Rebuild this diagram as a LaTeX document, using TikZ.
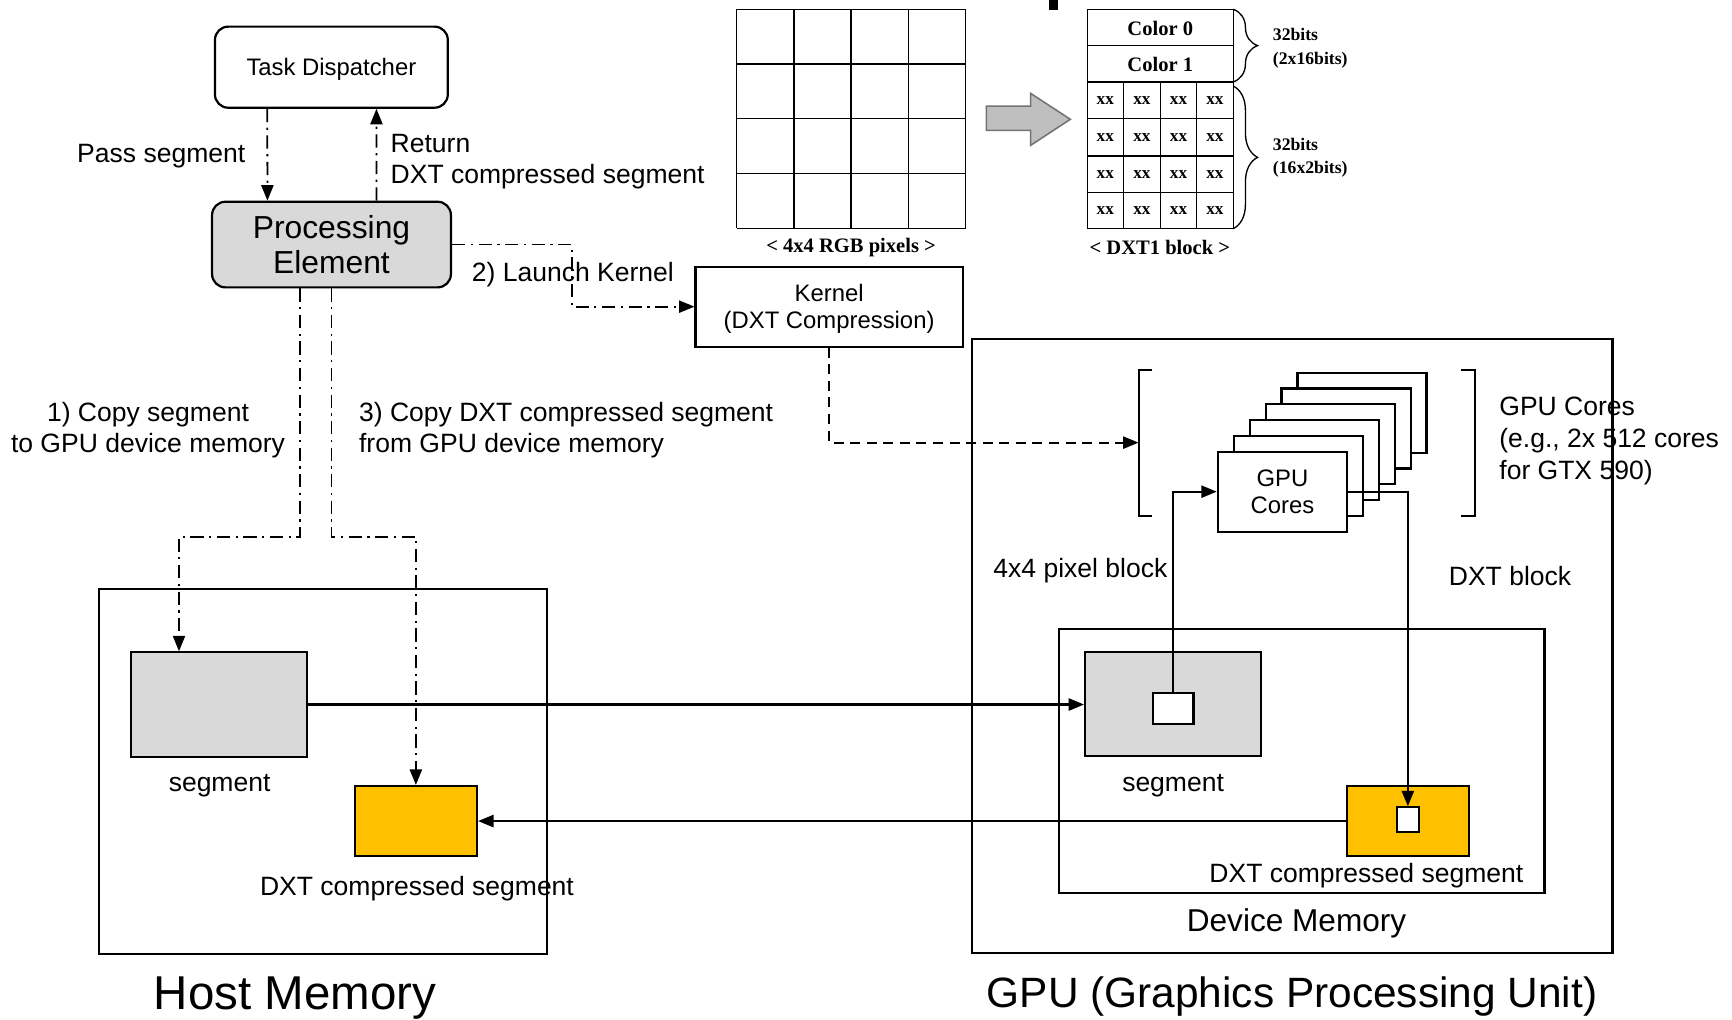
\documentclass[tikz,border=0pt]{standalone}
\usepackage{fontspec}
\setmainfont{Liberation Sans}
\newfontfamily\tnr{Liberation Serif}
\usetikzlibrary{arrows.meta,decorations.pathreplacing}
\definecolor{segfill}{HTML}{D9D9D9}
\definecolor{dxtfill}{HTML}{FFC000}
\definecolor{bigarrow}{HTML}{BFBFBF}

\begin{document}
\begin{tikzpicture}[x=0.5pt,y=-0.5pt,
  membox/.style={draw,line width=1pt,inner sep=0pt,align=center,text depth=0pt,font=\fontsize{10.8}{12.1}\selectfont},
  lbl/.style={inner sep=0pt,text depth=0pt,font=\fontsize{12}{14.3}\selectfont},
  dashdot/.style={line width=0.8pt,dash pattern=on 6pt off 2.5pt on 1pt off 2.5pt},
  arr/.style={-{Triangle[length=7pt,width=5.5pt]}},
  inset/.style={inner sep=0pt,font=\tnr\bfseries\fontsize{9.3}{10.5}\selectfont}]
  \useasboundingbox (0,0) rectangle (1568,923);

  % 4x4 pixels and DXT1 block
  \foreach \i in {0,...,4} {
    \draw[line width=0.6pt] ({667+51.775*\i},8.4) -- ({667+51.775*\i},206.7);
    \draw[line width=0.6pt] (667,{8.4+49.575*\i}) -- (874.1,{8.4+49.575*\i});
  }
  \node[inset] (rgbcap) at (770.5,224) {< 4x4 RGB pixels >};
  \filldraw[fill=bigarrow,draw=black!55,line width=0.7pt] (893,96) -- (933,96) -- (933,84.5)
    -- (969,108) -- (933,131.6) -- (933,118) -- (893,118) -- cycle;
  \draw[line width=0.6pt] (984.3,8.4) rectangle (1116.5,207);
  \foreach \yy in {41.4,74.2,107.5,141.2,174.5}
    \draw[line width=0.6pt] (984.3,\yy) -- (1116.5,\yy);
  \foreach \xx in {1016.9,1050.7,1083.3}
    \draw[line width=0.6pt] (\xx,74.2) -- (\xx,207);
  \node[inset] (col0) at (1050.4,25.6) {Color 0};
  \node[inset] (col1) at (1050.4,58.8) {Color 1};
  \foreach \xx in {1000.6,1033.8,1067,1099.9}
    \foreach \yy in {90.9,124.4,157.9,190.8}
      \node[inset,font=\tnr\bfseries\fontsize{7.8}{9}\selectfont] at (\xx,\yy) {xx};
  \draw[line width=0.6pt,decorate,decoration={brace,amplitude=11pt}] (1116.5,8.4) -- (1116.5,74.2);
  \draw[line width=0.6pt,decorate,decoration={brace,amplitude=11pt}] (1116.5,77.9) -- (1116.5,207);
  \node[inset,anchor=west,align=left,font=\tnr\bfseries\fontsize{8}{10.5}\selectfont] (bits1) at (1152,43.7) {32bits\\(2x16bits)};
  \node[inset,anchor=west,align=left,font=\tnr\bfseries\fontsize{8}{10.5}\selectfont] (bits2) at (1152,143) {32bits\\(16x2bits)};
  \node[inset] (dxtcap) at (1050,224) {< DXT1 block >};
  \fill (949.7,0) rectangle (957.5,9);

  % host side
  \node[membox,rounded corners=6pt,minimum width=105.4pt,minimum height=36.7pt] (td) at (300,60.8) {Task Dispatcher};
  \node[membox,rounded corners=6pt,fill=segfill,minimum width=108.1pt,minimum height=38.75pt,
        font=\fontsize{14.4}{16.2}\selectfont] (pe) at (300.1,221.4) {Processing\\Element};
  \node[membox,minimum width=120.9pt,minimum height=36.2pt] (kernel) at (750.6,277.6) {Kernel\\(DXT Compression)};
  \node[membox,minimum width=202.95pt,minimum height=164.9pt] (host) at (292.35,698.4) {};
  \node[membox,fill=segfill,minimum width=79.75pt,minimum height=47.2pt] (hostseg) at (198.25,637.8) {};
  \node[membox,fill=dxtfill,minimum width=55.3pt,minimum height=31.7pt] (hostdxt) at (376.5,743.3) {};

  % GPU side
  \node[membox,minimum width=289.75pt,minimum height=278.2pt] (gpu) at (1170,584.8) {};
  \node[membox,minimum width=219.7pt,minimum height=119.4pt] (devmem) at (1178.6,688.8) {};
  \node[membox,fill=segfill,minimum width=79.7pt,minimum height=47.05pt] (devseg) at (1062.1,637.35) {};
  \node[membox,fill=white,minimum width=18.3pt,minimum height=14.15pt] (devblk) at (1062.1,641.25) {};
  \node[membox,fill=dxtfill,minimum width=55.3pt,minimum height=31.7pt] (devdxt) at (1274.8,743.3) {};
  \node[membox,fill=white,minimum width=9.95pt,minimum height=11.15pt] (dxtblk) at (1274.55,742.05) {};
  \foreach \k in {5,4,3,2,1}
    \filldraw[fill=white,line width=1pt] ({1102.6+14.4*\k},{408.9-14.3*\k}) rectangle +(116.9,72.4);
  \node[membox,fill=white,minimum width=58.45pt,minimum height=36.2pt] (cores) at (1161,445.1) {GPU\\Cores};
  \draw[line width=1pt] (1043.3,335) -- (1030.8,335) -- (1030.8,467) -- (1043.3,467);
  \draw[line width=1pt] (1322.5,335) -- (1335,335) -- (1335,467) -- (1322.5,467);
  \coordinate (lbr) at (1030.8,400.7);

  % connectors
  \draw[dashdot,arr] ([xshift=-29pt]td.south) -- ([xshift=-29pt]pe.north);
  \draw[dashdot,arr] ([xshift=20.4pt]pe.north) -- ([xshift=20.4pt]td.south);
  \draw[dashdot,arr] (pe.east) -| ([xshift=-55.5pt]kernel.west) -- (kernel.west);
  \draw[line width=0.8pt,dash pattern=on 4.5pt off 3pt,arr] (kernel.south) |- (lbr);
  \coordinate (c1) at (271.7,485.8);
  \coordinate (c3) at (300.2,485.8);
  \draw[dashdot,arr] (pe.south -| c1) -- (c1) -| ([xshift=-18.1pt]hostseg.north);
  \draw[dashdot,arr] (pe.south -| c3) -- (c3) -| (hostdxt.north);
  \draw[line width=1pt,arr] (hostseg.east) -- (hostseg.east -| devseg.west);
  \draw[line width=1pt,arr] (devdxt.west) -- (devdxt.west -| hostdxt.east);
  \draw[line width=1pt,arr] (devblk.north) |- (cores.west);
  \draw[line width=1pt,arr] (cores.east) -| (dxtblk.north);

  % labels
  \node[lbl,anchor=east] (passlbl) at (222.4,138.8) {Pass segment};
  \node[lbl,anchor=west,align=left] (retlbl) at (353.3,144) {Return\\DXT compressed segment};
  \node[lbl,anchor=west] (launchlbl) at (426.9,246) {2) Launch Kernel};
  \node[lbl,align=center] (copy1lbl) at (134,387) {1) Copy segment\\to GPU device memory};
  \node[lbl,anchor=west,align=left] (copy3lbl) at (324.7,387) {3) Copy DXT compressed segment\\from GPU device memory};
  \node[lbl,anchor=west,align=left] (coreslbl) at (1357,396.8) {GPU Cores\\(e.g., 2x 512 cores\\for GTX 590)};
  \node[lbl,anchor=west] (pixlbl) at (899,514.5) {4x4 pixel block};
  \node[lbl,anchor=west] (dxtlbl) at (1311.3,521.5) {DXT block};
  \node[lbl] (hsegl) at (198.8,709.2) {segment};
  \node[lbl] (hdxtl) at (377.5,802.1) {DXT compressed segment};
  \node[lbl] (dsegl) at (1062,709) {segment};
  \node[lbl] (ddxtl) at (1237,790) {DXT compressed segment};
  \node[lbl,font=\fontsize{14.3}{16}\selectfont] (devlbl) at (1173.8,833) {Device Memory};
  \node[lbl,font=\fontsize{21.5}{24}\selectfont] (hostlbl) at (267.1,899.5) {Host Memory};
  \node[lbl,font=\fontsize{19.2}{22}\selectfont] (gpulbl) at (1169.8,898.5) {GPU (Graphics Processing Unit)};
\end{tikzpicture}
\end{document}
